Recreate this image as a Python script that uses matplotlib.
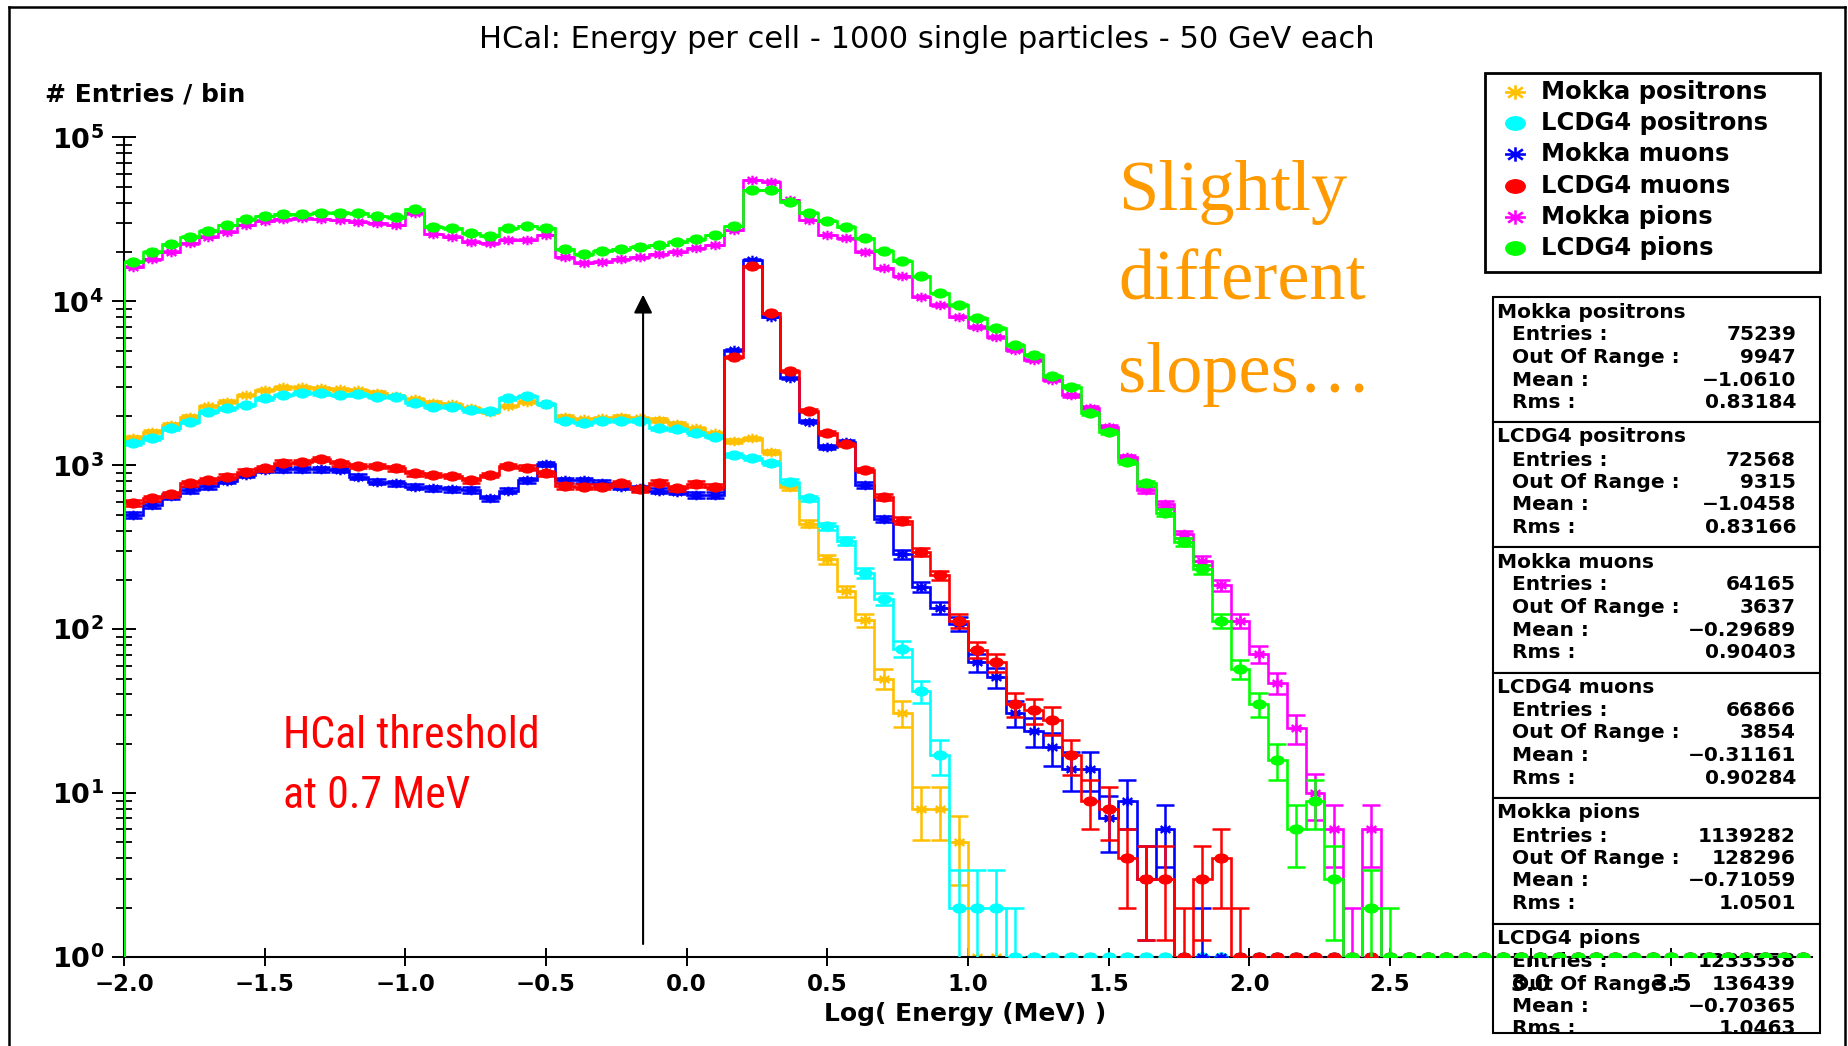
import numpy as np
import matplotlib
matplotlib.use("Agg")
import matplotlib.pyplot as plt
from matplotlib.path import Path
from matplotlib.transforms import Affine2D
from matplotlib.patches import Rectangle
from matplotlib.ticker import LogLocator, NullFormatter, NullLocator
from matplotlib import font_manager
from matplotlib.font_manager import FontProperties

# ---------------------------------------------------------------- binning
x_min, x_max, n_bins = -2.0, 4.0, 90          # log10(E / MeV), bin width 1/15

# ------------------------------------------- bin contents (later bins empty)
mokka_positrons = [1462, 1604, 1762, 1982, 2301, 2444, 2685, 2879, 2992, 2992,
                   2951, 2910, 2879, 2773, 2649, 2529, 2410, 2366, 2228, 2125,
                   2301, 2444, 2366, 1982, 1908, 1936, 1982, 1936, 1889, 1787,
                   1683, 1567, 1413, 1460, 1210, 735, 440, 267, 170, 114,
                   50, 31, 8, 8, 5]
lcdg4_positrons = [1362, 1462, 1683, 1845, 2125, 2228, 2334, 2564, 2685, 2773,
                   2748, 2685, 2713, 2624, 2624, 2389, 2279, 2279, 2174, 2155,
                   2564, 2649, 2366, 1871, 1804, 1871, 1871, 1871, 1683, 1657,
                   1567, 1496, 1156, 1105, 1030, 795, 629, 425, 345, 220,
                   153, 76, 42, 17, 2, 2, 2, 1]
mokka_muons = [497, 573, 650, 707, 748, 806, 873, 936, 946, 946,
               946, 936, 853, 794, 777, 741, 724, 713, 707, 629,
               700, 813, 1018, 813, 813, 783, 741, 724, 700, 690,
               659, 659, 5050, 17900, 8070, 3400, 1850, 1300, 1390, 758,
               472, 286, 181, 135, 108, 63, 51, 31, 24, 19,
               14, 14, 7, 9, 3, 6, 0, 1]
lcdg4_muons = [586, 629, 665, 777, 813, 853, 914, 959, 1038, 1052,
               1088, 1029, 991, 991, 959, 893, 873, 861, 813, 873,
               991, 967, 893, 748, 741, 741, 777, 713, 783, 724,
               769, 741, 4600, 16400, 8450, 3780, 2150, 1570, 1340, 936,
               643, 460, 297, 213, 113, 75, 63, 35, 32, 28,
               17, 9, 8, 4, 3, 3, 1, 3, 4, 1]
mokka_pions = [16290, 18070, 20090, 22610, 24830, 26610, 29240, 31120, 31700, 32140,
               31840, 31410, 30620, 29920, 29240, 34430, 25760, 24830, 23120, 22610,
               23710, 23710, 25410, 18580, 17220, 17460, 18070, 18580, 19450, 20090,
               21090, 22080, 27290, 55000, 53700, 41600, 31400, 25400, 24300, 20100,
               15900, 14200, 10700, 9500, 8070, 7010, 6090, 5050, 4390, 3310,
               2680, 2250, 1720, 1128, 707, 580, 380, 262, 185, 113,
               71, 47, 25, 10, 6, 1, 6]
lcdg4_pions = [17460, 20090, 22390, 24830, 26920, 29240, 31700, 33190, 33960, 33960,
               34750, 34830, 34430, 33190, 32580, 36480, 28580, 27930, 26000, 25180,
               27930, 28840, 27930, 20800, 19450, 20420, 20800, 21580, 22080, 23120,
               23930, 25410, 28840, 47800, 47800, 40600, 34800, 31100, 28600, 24300,
               20400, 17700, 14200, 11200, 9500, 7890, 6860, 5420, 4710, 3510,
               3020, 2080, 1600, 1052, 777, 515, 342, 232, 113, 57,
               35, 16, 6, 9, 3, 0, 2, 1]

series_labels = ["Mokka positrons", "LCDG4 positrons", "Mokka muons",
                 "LCDG4 muons", "Mokka pions", "LCDG4 pions"]
series_colors = ["#FFC000", "#00FFFF", "#0000FF", "#FF0000", "#FF00FF", "#00FF00"]
series_values = [mokka_positrons, lcdg4_positrons, mokka_muons,
                 lcdg4_muons, mokka_pions, lcdg4_pions]

stat_entries = ["75239", "72568", "64165", "66866", "1139282", "1233358"]
stat_out_of_range = ["9947", "9315", "3637", "3854", "128296", "136439"]
stat_mean = ["-1.0610", "-1.0458", "-0.29689", "-0.31161", "-0.71059", "-0.70365"]
stat_rms = ["0.83184", "0.83166", "0.90403", "0.90284", "1.0501", "1.0463"]

threshold_mev = 0.7
x_ticks = [-2.0, -1.5, -1.0, -0.5, 0.0, 0.5, 1.0, 1.5, 2.0, 2.5, 3.0, 3.5]
y_decades = [0, 1, 2, 3, 4, 5]

# ---------------------------------------------------------------- figure
W, H = 1849, 1046
plt.rcParams["font.family"] = ["DejaVu Sans"]
plt.rcParams["mathtext.fontset"] = "dejavusans"
fig = plt.figure(figsize=(W / 100, H / 100), dpi=100, facecolor="white")

# pixel-space layer for frame, legend, statistics boxes and annotations
bg = fig.add_axes([0, 0, 1, 1], zorder=0)
bg.set_xlim(0, W)
bg.set_ylim(H, 0)
bg.axis("off")

# plotting area
ax_l, ax_r, ax_t, ax_b = 124, 1812, 137.5, 957
ax = fig.add_axes([ax_l / W, 1 - ax_b / H, (ax_r - ax_l) / W, (ax_b - ax_t) / H],
                  zorder=1)
ax.patch.set_alpha(0)

# markers of the JAS style plot (horizontally stretched)
stretch = 1.45
oval = Path.unit_circle().transformed(Affine2D().scale(stretch, 1.0))
verts, codes = [], []
for a in np.deg2rad([0, 45, 90, 135]):
    dx, dy = stretch * np.cos(a), np.sin(a)
    verts += [(-dx, -dy), (dx, dy)]
    codes += [Path.MOVETO, Path.LINETO]
star = Path(verts, codes)

edges = np.linspace(x_min, x_max, n_bins + 1)
centers = 0.5 * (edges[1:] + edges[:-1])
floor = 1e-2

for i, (vals, color) in enumerate(zip(series_values, series_colors)):
    counts = np.zeros(n_bins)
    counts[:len(vals)] = vals
    z = 2 + i
    filled = counts > 0
    ax.stairs(np.where(filled, counts, floor), edges, baseline=floor,
              color=color, lw=1.9, zorder=z)
    err = np.sqrt(counts[filled])
    lo = np.minimum(err, counts[filled] - floor)
    ax.errorbar(centers[filled], counts[filled], yerr=[lo, err], fmt="none",
                ecolor=color, elinewidth=1.8, capsize=6.3, capthick=1.8, zorder=z)
    ypos = np.where(filled, counts, 1.0)
    if i % 2 == 0:
        ax.plot(centers, ypos, ls="none", marker=star, ms=10, mfc="none",
                mec=color, mew=1.7, zorder=z + 0.5)
    else:
        ax.plot(centers, ypos, ls="none", marker=oval, ms=9.5, mfc=color,
                mec=color, mew=0.8, zorder=z + 0.5)

ax.set_yscale("log")
ax.set_xlim(x_min, x_max)
ax.set_ylim(1, 10 ** y_decades[-1])
for side in ("top", "right"):
    ax.spines[side].set_visible(False)
for side in ("left", "bottom"):
    ax.spines[side].set_linewidth(1.5)
    ax.spines[side].set_color("black")

ax.set_xticks(x_ticks)
ax.set_xticklabels([f"{v:.1f}".replace("-", "\u2212") for v in x_ticks],
                   fontsize=16.5, fontweight="bold")
ax.xaxis.set_minor_locator(NullLocator())
ax.tick_params(axis="x", which="major", direction="inout", length=13, width=1.4,
               pad=5, colors="black")

ax.set_yticks([10.0 ** d for d in y_decades])
ax.set_yticklabels([r"$\mathbf{10^{%d}}$" % d for d in y_decades], fontsize=19.5)
ax.yaxis.set_minor_locator(LogLocator(base=10, subs=np.arange(2, 10), numticks=30))
ax.yaxis.set_minor_formatter(NullFormatter())
ax.tick_params(axis="y", which="major", direction="inout", length=17, width=1.4, pad=6)
ax.tick_params(axis="y", which="minor", direction="inout", length=12, width=1.3)

# threshold arrow
x_thr = np.log10(threshold_mev)
ax.annotate("", xy=(x_thr, 1.1e4), xytext=(x_thr, 1.2),
            arrowprops=dict(arrowstyle="-|>,head_length=0.56,head_width=0.28",
                            mutation_scale=20, lw=1.5, color="black",
                            shrinkA=0, shrinkB=0), zorder=20)

# ---------------------------------------------------------------- texts
bg.text(927, 40, "HCal: Energy per cell - 1000 single particles - 50 GeV each",
        ha="center", va="center", fontsize=22)
bg.text(45, 94, "# Entries / bin", ha="left", va="center", fontsize=18,
        fontweight="bold")
bg.text(965, 1014, "Log( Energy (MeV) )", ha="center", va="center",
        fontsize=18, fontweight="bold")


def narrow_font_file():
    """Return a condensed sans-serif regular face if one is installed."""
    entries = font_manager.fontManager.ttflist

    def regular(e):
        return str(e.weight).lower() in ("400", "normal", "regular", "book") \
            and e.style == "normal"

    for name in ("Liberation Sans Narrow", "Arial Narrow", "DejaVu Sans Condensed",
                 "Roboto Condensed", "Noto Sans Condensed", "Open Sans Condensed"):
        for e in entries:
            if e.name == name and regular(e):
                return e.fname
    for e in entries:
        if regular(e) and "sans" in e.name.lower() and "mono" not in e.name.lower() \
                and ("condensed" in str(e.stretch) or "narrow" in e.name.lower()
                     or "condensed" in e.name.lower()):
            return e.fname
    return None


fname = narrow_font_file()
if fname:
    red_font = FontProperties(fname=fname, size=34)
else:
    red_font = FontProperties(family="Liberation Sans", size=28)
red_lines = [bg.text(283, 748, "HCal threshold", ha="left", va="baseline",
                     color="#FF0000", fontproperties=red_font),
             bg.text(283, 808, "at 0.7 MeV", ha="left", va="baseline",
                     color="#FF0000", fontproperties=red_font)]
if fname:
    # size the condensed face so the first line spans 257 px
    renderer = fig.canvas.get_renderer()
    width = red_lines[0].get_window_extent(renderer).width
    new_size = red_font.get_size() * 257.0 / width
    for t in red_lines:
        t.set_fontsize(new_size)

for line, base in zip(["Slightly", "different", "slopes\u2026"], [210, 300, 392]):
    bg.text(1118, base, line, ha="left", va="baseline", color="#FF9A00",
            family="Liberation Serif", fontsize=52)

# outer frame
for xs, ys in (([9, 9], [7, H]), ([9, 1845], [7, 7]), ([1845, 1845], [7, H])):
    bg.plot(xs, ys, color="black", lw=1.8, solid_capstyle="projecting")

# ---------------------------------------------------------------- legend
bg.add_patch(Rectangle((1485, 73), 335, 199, facecolor="white",
                       edgecolor="black", lw=2.0))
for i, (label, color) in enumerate(zip(series_labels, series_colors)):
    y = 92 + 31.2 * i
    if i % 2 == 0:
        bg.plot([1515], [y], ls="none", marker=star, ms=15, mfc="none",
                mec=color, mew=1.9)
    else:
        bg.plot([1515], [y], ls="none", marker=oval, ms=14, mfc=color, mec=color)
    bg.text(1541, y, label, ha="left", va="center", fontsize=17.5,
            fontweight="bold")

# ---------------------------------------------------------------- statistics
box_tops = [297, 422, 547, 672.5, 798, 923.5]
box_bottoms = box_tops[1:] + [1033]
row_labels = ["Entries :", "Out Of Range :", "Mean :", "Rms :"]
for i, label in enumerate(series_labels):
    top, bottom = box_tops[i], box_bottoms[i]
    box = Rectangle((1493, top), 1819.5 - 1493, bottom - top, facecolor="white",
                    edgecolor="black", lw=1.5)
    bg.add_patch(box)
    texts = [bg.text(1497, top + 15, label, ha="left", va="center",
                     fontsize=14.5, fontweight="bold")]
    values = [stat_entries[i], stat_out_of_range[i],
              stat_mean[i].replace("-", "\u2212"), stat_rms[i]]
    for j, (rl, val) in enumerate(zip(row_labels, values)):
        y = top + 38 + 22.5 * j
        texts.append(bg.text(1512, y, rl, ha="left", va="center", fontsize=14.5,
                             fontweight="bold"))
        texts.append(bg.text(1796, y, val, ha="right", va="center", fontsize=14.5,
                             fontweight="bold"))
    for t in texts:
        t.set_clip_path(box)

fig.savefig("out.png", dpi=100, facecolor="white")
